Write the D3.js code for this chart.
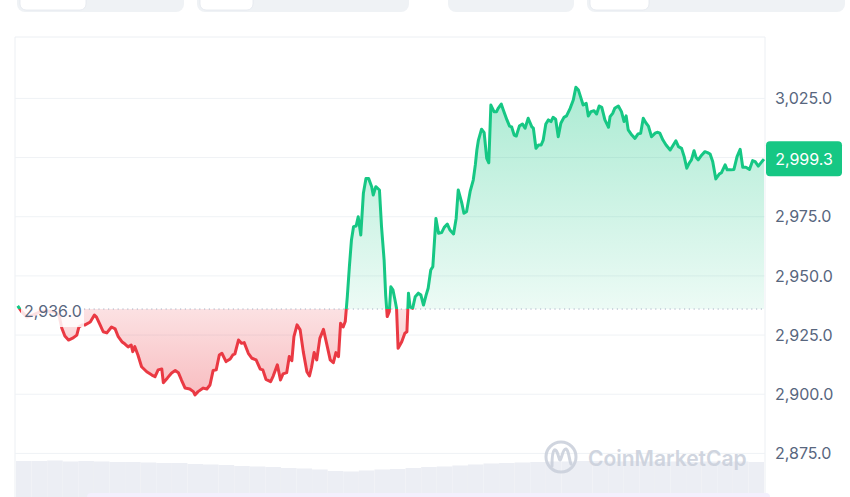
<!DOCTYPE html>
<html>
<head>
<meta charset="utf-8">
<style>
  body { margin: 0; background: #fff; }
  svg { display: block; font-family: Inter, "Noto Sans", sans-serif; }
</style>
</head>
<body>
<div id="chart"></div>
<script src="https://cdn.jsdelivr.net/npm/d3@7"></script>
<script>
// price data: minutes since start, price in USD
var times = [
  0,8,18,30,43,58,72,80,85,91,
  98,107,114,118,124,130,140,148,152,159,
  165,172,181,188,194,201,207,213,219,222,
  226,232,239,249,259,265,271,278,281,289,
  297,304,310,316,323,332,339,342,348,358,
  365,371,377,383,389,394,402,410,415,419,
  426,432,437,445,452,460,468,473,479,488,
  493,501,507,512,519,524,529,533,539,545,
  551,558,563,567,572,577,583,590,596,603,
  609,614,619,623,628,632,636,640,644,648,
  653,657,662,667,672,677,683,686,691,698,
  702,707,710,713,717,720,724,728,731,734,
  741,747,751,754,757,762,767,773,778,783,
  788,792,797,801,807,812,818,823,829,834,
  841,846,850,857,861,866,873,879,883,886,
  889,895,900,905,909,913,919,924,927,933,
  937,944,949,953,958,962,968,974,979,985,
  992,995,1000,1005,1010,1014,1019,1024,1029,1033,
  1038,1043,1048,1054,1059,1066,1072,1077,1082,1087,
  1091,1097,1101,1106,1112,1117,1122,1127,1133,1140,
  1143,1148,1152,1159,1165,1170,1174,1178,1185,1191,
  1197,1202,1207,1212,1217,1223,1230,1234,1239,1245,
  1251,1259,1265,1270,1275,1281,1286,1291,1296,1300,
  1305,1309,1313,1320,1326,1331,1336,1341,1347,1354,
  1358,1365,1369,1376,1382,1388,1394,1399,1405,1412,
  1418,1423,1429,1436,1440
];
var prices = [
  2937.3,2934.8,2932.6,2933.5,2934.8,2935.2,2934.8,2933.1,2928.0,2924.6,
  2922.9,2923.8,2925.0,2928.4,2929.3,2929.3,2930.5,2933.5,2932.6,2929.3,
  2926.4,2925.9,2928.4,2927.6,2924.3,2922.2,2921.2,2920.0,2920.8,2918.0,
  2920.1,2916.6,2911.6,2909.5,2908.1,2907.4,2910.3,2910.7,2904.9,2906.9,
  2909.0,2910.0,2909.1,2906.0,2902.6,2902.2,2901.1,2899.7,2901.1,2902.6,
  2902.2,2903.9,2910.0,2910.3,2916.6,2917.3,2913.8,2914.9,2916.6,2917.0,
  2922.9,2921.5,2921.8,2917.3,2915.2,2914.5,2910.6,2910.3,2906.3,2905.3,
  2907.7,2912.4,2906.0,2908.6,2909.1,2915.9,2914.2,2924.3,2929.3,2927.2,
  2918.0,2909.5,2907.7,2911.4,2917.6,2914.5,2923.6,2927.4,2921.5,2914.5,
  2913.3,2917.6,2915.9,2930.0,2928.4,2930.7,2941.2,2953.9,2965.2,2970.8,
  2971.1,2975.0,2967.3,2984.9,2991.2,2991.2,2987.7,2984.2,2987.7,2986.3,
  2970.8,2956.7,2941.9,2932.8,2934.9,2945.4,2944.1,2939.8,2936.3,2919.4,
  2922.2,2925.8,2926.4,2942.7,2937.0,2936.3,2941.2,2942.7,2941.9,2937.7,
  2941.9,2944.8,2952.5,2953.9,2974.3,2968.0,2968.3,2970.5,2971.9,2969.4,
  2967.7,2974.3,2986.3,2980.7,2976.5,2977.1,2985.7,2990.5,2996.9,3003.2,
  3007.4,3012.0,3010.5,2999.7,2997.8,3022.2,3019.4,3019.4,3020.8,3022.6,
  3020.1,3015.9,3013.3,3013.0,3009.5,3009.1,3013.3,3014.2,3012.4,3016.6,
  3013.0,3012.4,3003.9,3005.3,3005.3,3007.4,3014.2,3015.9,3015.2,3017.0,
  3016.2,3008.8,3014.5,3017.0,3017.6,3020.8,3024.3,3029.7,3028.5,3025.0,
  3022.2,3022.9,3017.6,3019.4,3019.8,3018.4,3021.8,3021.2,3015.9,3012.8,
  3017.3,3018.7,3020.8,3021.8,3019.4,3015.2,3017.6,3011.7,3009.5,3008.1,
  3010.0,3010.3,3016.6,3014.7,3013.3,3008.8,3010.3,3010.7,3010.3,3007.4,
  3005.3,3003.2,3005.3,3007.1,3004.6,3003.9,3000.4,2995.5,2997.8,2999.0,
  3002.9,3000.1,2999.0,3001.1,3002.5,3002.1,3001.5,2998.3,2991.0,2993.1,
  2993.6,2996.9,2994.8,2994.8,2995.0,3000.4,3003.5,2995.9,2995.9,2995.0,
  2998.7,2998.3,2996.4,2998.3,2999.3
];
// volume per 30 min (arbitrary units)
var volumes = [
  72,72,73,71,72,71,70,70,69,68,68,66,65,64,62,61,60,58,57,55,52,51,53,55,
  56,58,60,61,63,65,67,68,69,70,71,71,72,72,71,72,71,70,71,70,71,70,71,70
];
var yTicks = [2875, 2900, 2925, 2950, 2975, 3000, 3025];
var openPrice = 2936.0;
var lastPrice = 2999.3;

var width = 850, height = 497;
var frame = {left: 15, right: 765, top: 37, bottom: 497};

var data = times.map(function(t, i) { return {t: t, p: prices[i]}; });

var svg = d3.select("#chart").append("svg")
    .attr("width", width)
    .attr("height", height);

var x = d3.scaleLinear().domain([0, 1440]).range([17.7, 764]);
var y = d3.scaleLinear().domain([2875, 3025]).range([453.4, 98.4]);
var yVol = d3.scaleLinear().domain([0, 90]).range([frame.bottom, frame.bottom - 45]);

var green = "#16c784", red = "#ea3943";
var baseY = y(openPrice);

// top tab buttons (cut off by the window)
var tabs = [[17, 167, 66], [197, 212, 53], [448, 126, 0], [587, 258, 59]];
tabs.forEach(function(d) {
  svg.append("rect").attr("x", d[0]).attr("y", -14).attr("width", d[1]).attr("height", 26)
      .attr("rx", 8).attr("fill", "#eff2f5");
  if (d[2] > 0) {
    svg.append("rect").attr("x", d[0] + 3).attr("y", -14).attr("width", d[2]).attr("height", 24)
        .attr("rx", 6).attr("fill", "#fff")
        .attr("stroke", "#e3e7ee").attr("stroke-width", 0.8);
  }
});

// gradients
var defs = svg.append("defs");
var gUp = defs.append("linearGradient").attr("id", "gUp")
    .attr("gradientUnits", "userSpaceOnUse")
    .attr("x1", 0).attr("x2", 0).attr("y1", y(3030)).attr("y2", baseY);
gUp.append("stop").attr("offset", 0).attr("stop-color", green).attr("stop-opacity", 0.36);
gUp.append("stop").attr("offset", 1).attr("stop-color", green).attr("stop-opacity", 0.08);
var gDown = defs.append("linearGradient").attr("id", "gDown")
    .attr("gradientUnits", "userSpaceOnUse")
    .attr("x1", 0).attr("x2", 0).attr("y1", baseY).attr("y2", y(2898));
gDown.append("stop").attr("offset", 0).attr("stop-color", red).attr("stop-opacity", 0.15);
gDown.append("stop").attr("offset", 1).attr("stop-color", red).attr("stop-opacity", 0.34);

defs.append("clipPath").attr("id", "clipUp").append("rect")
    .attr("x", frame.left).attr("y", frame.top)
    .attr("width", frame.right - frame.left).attr("height", baseY - frame.top);
defs.append("clipPath").attr("id", "clipDown").append("rect")
    .attr("x", frame.left).attr("y", baseY)
    .attr("width", frame.right - frame.left).attr("height", frame.bottom - baseY);

// frame
svg.append("path")
    .attr("d", "M" + frame.left + "," + frame.bottom + "V" + frame.top + "H" + frame.right + "V" + frame.bottom)
    .attr("fill", "none").attr("stroke", "#eceff3").attr("stroke-width", 1);

// grid
svg.append("g").selectAll("line").data(yTicks).enter().append("line")
    .attr("x1", frame.left).attr("x2", frame.right)
    .attr("y1", function(d) { return y(d); }).attr("y2", function(d) { return y(d); })
    .attr("stroke", "#eff2f5").attr("stroke-width", 1);

// volume bars
var xVol = d3.scaleBand().domain(d3.range(volumes.length)).range([frame.left + 1, frame.right - 1]).padding(0);
svg.append("g").selectAll("rect").data(volumes).enter().append("rect")
    .attr("x", function(d, i) { return xVol(i); })
    .attr("y", function(d) { return yVol(d); })
    .attr("width", xVol.bandwidth())
    .attr("height", function(d) { return frame.bottom - yVol(d); })
    .attr("fill", "#eceef4");

// watermark
var wm = svg.append("g").attr("opacity", 0.9);
wm.append("circle").attr("cx", 561).attr("cy", 457).attr("r", 15)
    .attr("fill", "none").attr("stroke", "#cbd1dc").attr("stroke-width", 3);
wm.append("path")
    .attr("d", "M552,466 C552,446 556,446 559,458 C561,466 562,448 566,449 C569,450 569,460 571,464")
    .attr("fill", "none").attr("stroke", "#cbd1dc").attr("stroke-width", 3).attr("stroke-linecap", "round");
wm.append("text").attr("x", 588).attr("y", 466)
    .attr("font-size", 21).attr("font-weight", 600).attr("fill", "#cbd1dc")
    .text("CoinMarketCap");

// areas and line
var area = d3.area()
    .x(function(d) { return x(d.t); })
    .y0(baseY)
    .y1(function(d) { return y(d.p); });
var line = d3.line()
    .x(function(d) { return x(d.t); })
    .y(function(d) { return y(d.p); });

svg.append("path").datum(data).attr("d", area).attr("fill", "url(#gUp)").attr("clip-path", "url(#clipUp)");
svg.append("path").datum(data).attr("d", area).attr("fill", "url(#gDown)").attr("clip-path", "url(#clipDown)");

// opening price dotted line
svg.append("line")
    .attr("x1", 84).attr("x2", frame.right)
    .attr("y1", baseY).attr("y2", baseY)
    .attr("stroke", "#a6b0c3").attr("stroke-width", 1)
    .attr("stroke-dasharray", "1.2,3.6");

svg.append("path").datum(data).attr("d", line)
    .attr("fill", "none").attr("stroke", green).attr("stroke-width", 3)
    .attr("stroke-linejoin", "round").attr("clip-path", "url(#clipUp)");
svg.append("path").datum(data).attr("d", line)
    .attr("fill", "none").attr("stroke", red).attr("stroke-width", 3)
    .attr("stroke-linejoin", "round").attr("clip-path", "url(#clipDown)");

// open price label with faded backdrop
svg.append("rect").attr("x", 21).attr("y", baseY - 13).attr("width", 63).attr("height", 31)
    .attr("fill", "#fff").attr("opacity", 0.85);
svg.append("text").attr("x", 24).attr("y", baseY + 2).attr("dy", "0.35em")
    .attr("font-size", 16).attr("fill", "#58667e")
    .text(d3.format(",.1f")(openPrice));

// right axis
var axis = svg.append("g")
    .attr("transform", "translate(" + frame.right + ",0)")
    .call(d3.axisRight(y).tickValues(yTicks.filter(function(d) { return d !== 3000; }))
      .tickFormat(d3.format(",.1f")).tickSize(0).tickPadding(10));
axis.select(".domain").remove();
axis.selectAll("text").attr("font-size", 16).attr("fill", "#58667e")
    .attr("font-family", "Inter, 'Noto Sans', sans-serif");

// last price tag
svg.append("rect").attr("x", 766).attr("y", y(lastPrice) - 18).attr("width", 76).attr("height", 35)
    .attr("rx", 4).attr("fill", green);
svg.append("text").attr("x", 804).attr("y", y(lastPrice)).attr("dy", "0.35em")
    .attr("text-anchor", "middle").attr("font-size", 16).attr("fill", "#fff")
    .text(d3.format(",.1f")(lastPrice));

// faint floating bar shadow at the bottom
svg.append("rect").attr("x", 87).attr("y", 493).attr("width", 683).attr("height", 8)
    .attr("rx", 4).attr("fill", "#f3f0fd");
</script>
</body>
</html>
